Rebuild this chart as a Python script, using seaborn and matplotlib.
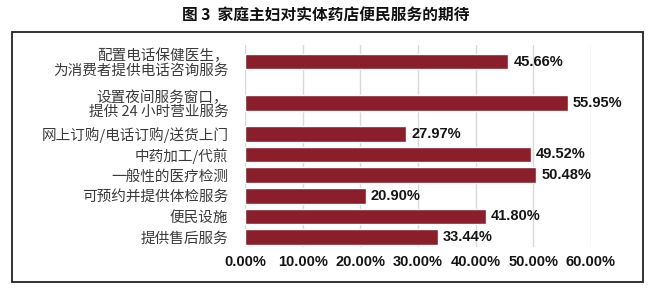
import matplotlib
matplotlib.use("Agg")
import matplotlib.pyplot as plt
import seaborn as sns
import numpy as np
import pandas as pd
from matplotlib.patches import Rectangle

categories = [
    "配置电话保健医生，\n为消费者提供电话咨询服务",
    "设置夜间服务窗口，\n提供 24 小时营业服务",
    "网上订购/电话订购/送货上门",
    "中药加工/代煎",
    "一般性的医疗检测",
    "可预约并提供体检服务",
    "便民设施",
    "提供售后服务",
]
values = [45.66, 55.95, 27.97, 49.52, 50.48, 20.90, 41.80, 33.44]
xticks = [0, 10, 20, 30, 40, 50, 60]
title = "图 3  家庭主妇对实体药店便民服务的期待"

sns.set_theme(style="white")
plt.rcParams["font.family"] = ["Noto Sans CJK SC", "DejaVu Sans"]

# slot height proportional to number of label lines
nlines = np.array([c.count("\n") + 1 for c in categories], dtype=float)
pos = np.cumsum(nlines) - nlines / 2.0

df = pd.DataFrame({"cat": categories, "val": values, "pos": pos})

fig = plt.figure(figsize=(6.52, 2.92), dpi=100)
fig.patch.set_facecolor("white")
ax = fig.add_axes([245 / 652, 1 - 247 / 292, (591 - 245) / 652, (247 - 45) / 292])

sns.barplot(data=df, x="val", y="pos", orient="h", native_scale=True,
            color="#8a1f2b", saturation=1, width=0.75, ax=ax, zorder=3)

ax.set_xlim(0, 60)
ax.set_ylim(pos[-1] + 0.48, pos[0] - 0.8)
ax.set_xticks(xticks)
numfont = ["Liberation Sans", "DejaVu Sans"]
ax.set_xticklabels([f"{t:.2f}%" for t in xticks], family=numfont,
                   fontsize=10.5, fontweight="bold", color="#151515")
ax.set_yticks(pos)
ax.set_yticklabels(categories, fontsize=10.5, color="#3a3a3a", linespacing=1.0)
ax.tick_params(axis="y", length=0, pad=12)
ax.tick_params(axis="x", length=0, pad=6)
ax.set_xlabel("")
ax.set_ylabel("")
for s in ax.spines.values():
    s.set_visible(False)
ax.grid(axis="x", color="#d8d8d8", linewidth=1.0, zorder=0)
ax.grid(axis="y", visible=False)
ax.set_facecolor("white")

for v, p in zip(values, pos):
    ax.text(v + 0.9, p, f"{v:.2f}%", va="center", ha="left",
            family=numfont, fontsize=10.5, fontweight="bold", color="#151515",
            clip_on=False)

fig.add_artist(Rectangle((12 / 652, 1 - 282 / 292), (643 - 12) / 652, (282 - 32) / 292,
                         transform=fig.transFigure, fill=False,
                         edgecolor="#222222", linewidth=1.3))
fig.text(326 / 652, 1 - 16 / 292, title, ha="center", va="center",
         fontsize=11.3, fontweight="bold", color="#111111")

fig.savefig("out.png", dpi=100, facecolor="white")
